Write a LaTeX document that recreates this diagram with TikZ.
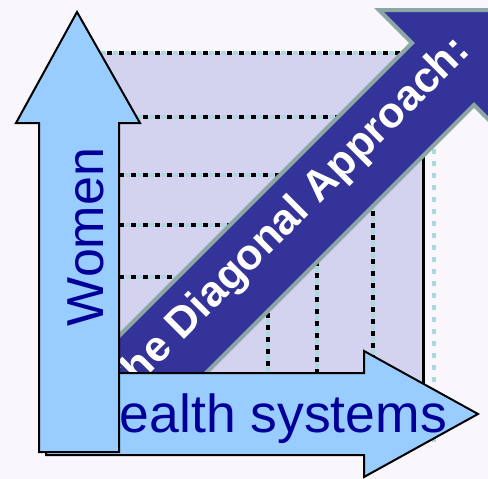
\documentclass[tikz,border=0pt]{standalone}
\usepackage{fontspec}
\setmainfont{Liberation Sans}

\definecolor{bgcol}{RGB}{249,247,252}
\definecolor{gridfill}{RGB}{211,211,240}
\definecolor{dotcyan}{RGB}{170,218,222}
\definecolor{arrowblue}{RGB}{153,204,255}
\definecolor{textblue}{RGB}{0,0,153}
\definecolor{bandblue}{RGB}{51,51,153}
\definecolor{bandedge}{RGB}{140,166,166}

\begin{document}
\begin{tikzpicture}[
  x=1pt, y=-1pt,
  dotline/.style={line width=4pt, draw=dotcyan, dash pattern=on 5pt off 7pt, dash phase=6pt, postaction={draw=black, dash pattern=on 5pt off 7pt, dash phase=0pt}},
  cyandots/.style={line width=4pt, draw=dotcyan, dash pattern=on 5pt off 7pt},
  arrowshape/.style={fill=arrowblue, draw=black, line width=2pt, line join=miter},
  band/.style={fill=bandblue, draw=bandedge, line width=4pt, line join=miter},
  bigtext/.style={font=\fontsize{52}{52}\selectfont, text=textblue, inner sep=0pt},
  bandtext/.style={font=\fontsize{43}{43}\selectfont\bfseries, text=white, inner sep=0pt}
]
\clip (0,0) rectangle (488,479);
\fill[bgcol] (0,0) rectangle (488,479);

% Grid
\fill[gridfill] (95,53) rectangle (423,392);
\foreach \y/\x in {53/434, 117/423, 175/373, 225/317, 277/268}
  \draw[dotline] (95,\y) -- (\x,\y);
\foreach \x/\y in {268/277, 317/225, 373/175}
  \draw[dotline] (\x,\y) -- (\x,376);
\draw[line width=3pt] (423,53) -- (423,392);
\draw[cyandots] (434,53) -- (434,447);

% Diagonal
\draw[band] (99,356) -- (412,43) -- (379,10) -- (507,10) -- (507,138) -- (474,105) -- (161,418) -- cycle;
\node (diag) [bandtext, rotate=45, anchor=base] at (296,228) {The Diagonal Approach:};

% Health systems
\draw[arrowshape] (46,373) -- (364,373) -- (364,351) -- (478,414) -- (364,477) -- (364,455) -- (46,455) -- cycle;
\node (health) [bigtext, font=\fontsize{53.5}{53.5}\selectfont, anchor=base] at (264,432) {Health systems};

% Women
\draw[arrowshape] (77,12) -- (140,123) -- (119,123) -- (119,452) -- (39,452) -- (39,123) -- (16,123) -- cycle;
\node (women) [bigtext, rotate=90, anchor=base] at (103,237) {Women};
\end{tikzpicture}
\end{document}
